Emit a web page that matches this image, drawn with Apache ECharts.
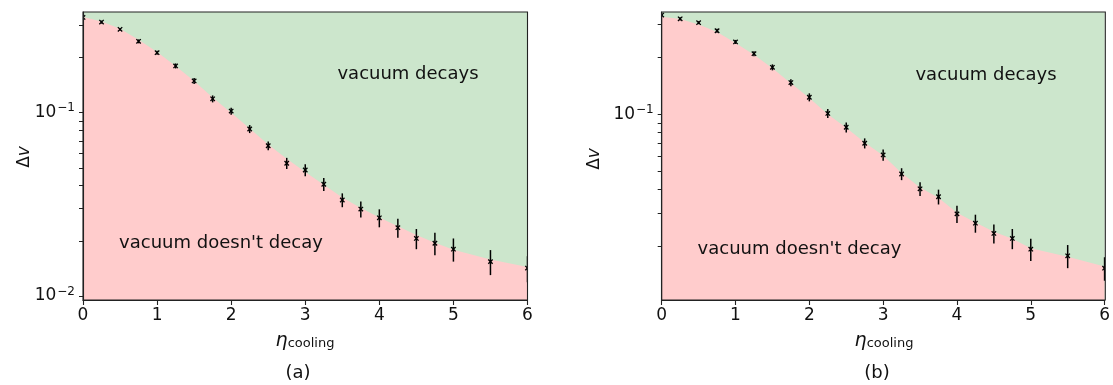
<!DOCTYPE html>
<html><head><meta charset="utf-8">
<script src="https://cdn.jsdelivr.net/npm/echarts@6/dist/echarts.min.js"></script>
<style>html,body{margin:0;padding:0;background:#fff}#c{width:1113px;height:385px}</style>
</head><body><div id="c"></div>
<script>
const etaCooling = [0,0.25,0.5,0.75,1,1.25,1.5,1.75,2,2.25,2.5,2.75,3,3.25,3.5,3.75,4,4.25,4.5,4.75,5,5.5,6];
const deltaVA = [0.331,0.312,0.285,0.245,0.2125,0.180,0.149,0.119,0.102,0.0815,0.066,0.053,0.0487,0.0407,0.0334,0.0298,0.0267,0.0236,0.0206,0.0194,0.0180,0.0154,0.0142];
const errA = [0.004,0.006,0.005,0.006,0.0053,0.0057,0.0056,0.0052,0.0045,0.0041,0.0037,0.0037,0.0037,0.0033,0.0029,0.003,0.003,0.0028,0.0026,0.0027,0.0026,0.0024,0.0023];
const boundaryA = [0.333,0.314,0.287,0.250,0.214,0.180,0.149,0.121,0.100,0.082,0.067,0.056,0.0475,0.0405,0.0345,0.0302,0.0268,0.024,0.0215,0.0195,0.0179,0.0158,0.0144];
const deltaVB = [0.334,0.319,0.3045,0.276,0.241,0.209,0.177,0.147,0.123,0.101,0.0854,0.0703,0.061,0.0484,0.0404,0.0367,0.0298,0.0266,0.0235,0.0221,0.0194,0.0179,0.0154];
const errB = [0.004,0.006,0.0055,0.0067,0.0059,0.0064,0.0065,0.0063,0.006,0.0055,0.0052,0.0043,0.0041,0.0035,0.0034,0.0033,0.0031,0.0029,0.0027,0.0027,0.0026,0.0025,0.0022];
const boundaryB = [0.327,0.318,0.298,0.272,0.238,0.206,0.175,0.146,0.122,0.1,0.085,0.071,0.0605,0.049,0.041,0.0362,0.0302,0.0268,0.024,0.022,0.0196,0.0177,0.0157];
const yMajorA = [0.01, 0.1];
const yMajorB = [0.1];
const yMinor = [0.02,0.03,0.04,0.05,0.06,0.07,0.08,0.09,0.2,0.3];
const yRangeA = [0.00951, 0.3542];
const yRangeB = [0.010459, 0.3467];
const panelLabels = ['(a)', '(b)'];

const FONT = 'DejaVu Sans';
const INK = '#222';
const grids = [
  {left: 83, top: 12, width: 444.5, height: 288},
  {left: 661.7, top: 12, width: 443.6, height: 288}
];

function zip(xs, ys, es) { return xs.map((x, i) => es ? [x, ys[i], es[i]] : [x, ys[i]]); }

function errRender(params, api) {
  const x = api.value(0), y = api.value(1), e = api.value(2);
  const c = api.coord([x, y]);
  const lo = api.coord([x, y - e]);
  const hi = api.coord([x, y + e]);
  const s = 2.2;
  return {type: 'group', children: [
    {type: 'line', shape: {x1: c[0], y1: lo[1], x2: c[0], y2: hi[1]}, style: {stroke: '#000', lineWidth: 1.5}},
    {type: 'line', shape: {x1: c[0]-s, y1: c[1]-s, x2: c[0]+s, y2: c[1]+s}, style: {stroke: '#000', lineWidth: 1.3}},
    {type: 'line', shape: {x1: c[0]-s, y1: c[1]+s, x2: c[0]+s, y2: c[1]-s}, style: {stroke: '#000', lineWidth: 1.3}}
  ]};
}

const supFmt = v => '10{sup|\u2212' + Math.round(-Math.log10(v)) + '}';

function xAxisFor(i) {
  return {type: 'value', gridIndex: i, min: 0, max: 6, interval: 1, z: 10,
    axisLine: {show: true, onZero: false, lineStyle: {color: INK, width: 1.1}},
    axisTick: {show: true, length: 5, lineStyle: {color: INK, width: 1.1}},
    axisLabel: {fontSize: 17, color: '#111', fontFamily: FONT, margin: 7},
    splitLine: {show: false}};
}
function yAxisFor(i, range, majors) {
  return {type: 'log', logBase: 10, gridIndex: i, position: 'left', min: range[0], max: range[1], z: 10,
    axisLine: {show: true, onZero: false, lineStyle: {color: INK, width: 1.1}},
    axisTick: {show: true, length: 4, customValues: majors.concat(yMinor), lineStyle: {color: INK, width: 1}},
    axisLabel: {customValues: majors, formatter: supFmt, margin: 8, color: '#111',
      fontSize: 17, fontFamily: FONT,
      rich: {sup: {fontSize: 12, fontFamily: FONT, color: '#111', verticalAlign: 'top', padding: [0, 0, 9, 1]}}},
    splitLine: {show: false}, minorTick: {show: false}};
}

const sets = [
  {d: deltaVA, e: errA, b: boundaryA},
  {d: deltaVB, e: errB, b: boundaryB}
];
const series = [];
sets.forEach((s, i) => {
  series.push({type: 'line', xAxisIndex: i, yAxisIndex: i, data: zip(etaCooling, s.b),
    symbol: 'none', showSymbol: false, silent: true, z: 1,
    lineStyle: {width: 0}, areaStyle: {color: '#ffcccc', opacity: 1, origin: 'start'}});
  series.push({type: 'custom', xAxisIndex: i, yAxisIndex: i, data: zip(etaCooling, s.d, s.e),
    renderItem: errRender, clip: true, z: 3, silent: true});
});

const txt = (x, y, text, size, extra) => Object.assign({type: 'text', x: x, y: y, z: 50,
  style: Object.assign({text: text, fontSize: size, fontFamily: FONT, fill: '#111', align: 'center', verticalAlign: 'middle'}, extra || {})});

const etaRich = {eta: {fontSize: 19, fontStyle: 'italic', fontFamily: FONT, fill: '#111'},
                 sub: {fontSize: 13, fontFamily: FONT, fill: '#111', padding: [6, 0, 0, 0]}};
const dvRich = {d: {fontSize: 17, fontFamily: FONT, fill: '#111'},
                i: {fontSize: 17, fontStyle: 'italic', fontFamily: FONT, fill: '#111'}};

const graphic = [];
grids.forEach((g, i) => {
  graphic.push({type: 'rect', z: 40, silent: true,
    shape: {x: g.left, y: g.top, width: g.width, height: g.height},
    style: {fill: 'none', stroke: INK, lineWidth: 1.1}});
});
graphic.push(txt(408, 74, 'vacuum decays', 18));
graphic.push(txt(221, 243, "vacuum doesn't decay", 18));
graphic.push(txt(986, 75, 'vacuum decays', 18));
graphic.push(txt(799.5, 249, "vacuum doesn't decay", 18));
graphic.push(txt(305, 341, '{eta|\u03b7}{sub|cooling}', 19, {rich: etaRich}));
graphic.push(txt(884, 341, '{eta|\u03b7}{sub|cooling}', 19, {rich: etaRich}));
graphic.push(txt(25, 157, '{d|\u0394}{i|v}', 17, {rich: dvRich}));
graphic.push(txt(595, 159, '{d|\u0394}{i|v}', 17, {rich: dvRich}));
graphic[graphic.length-2].rotation = Math.PI/2;
graphic[graphic.length-1].rotation = Math.PI/2;
graphic.push(txt(298, 373, panelLabels[0], 18));
graphic.push(txt(877, 373, panelLabels[1], 18));

const chart = echarts.init(document.getElementById('c'), null, {renderer: 'canvas'});
chart.setOption({
  animation: false,
  backgroundColor: '#fff',
  grid: grids.map(g => Object.assign({show: true, backgroundColor: '#cce6cc', borderWidth: 0}, g)),
  xAxis: [xAxisFor(0), xAxisFor(1)],
  yAxis: [yAxisFor(0, yRangeA, yMajorA), yAxisFor(1, yRangeB, yMajorB)],
  series: series,
  graphic: graphic
});
</script></body></html>
